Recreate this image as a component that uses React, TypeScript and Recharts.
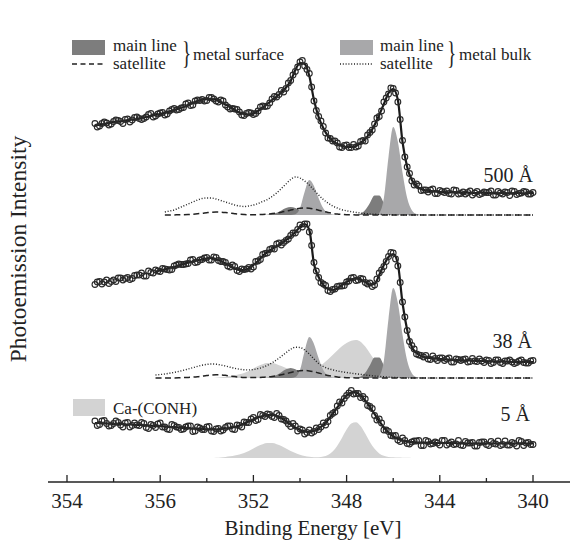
import React from "react";
import { ComposedChart, Area, Line, XAxis, YAxis } from "recharts";

// Binding energy grid of the fit [eV]
const energy = [
  358.8, 358.6, 358.4, 358.2, 358.0, 357.8, 357.6, 357.4, 357.2, 357.0,
  356.8, 356.6, 356.4, 356.2, 356.0, 355.8, 355.6, 355.4, 355.2, 355.0,
  354.8, 354.6, 354.4, 354.2, 354.0, 353.8, 353.6, 353.4, 353.2, 353.0,
  352.8, 352.6, 352.4, 352.2, 352.0, 351.8, 351.6, 351.4, 351.2, 351.0,
  350.8, 350.6, 350.4, 350.2, 350.0, 349.8, 349.6, 349.4, 349.2, 349.0,
  348.8, 348.6, 348.4, 348.2, 348.0, 347.8, 347.6, 347.4, 347.2, 347.0,
  346.8, 346.6, 346.4, 346.2, 346.0, 345.8, 345.6, 345.4, 345.2, 345.0,
  344.8, 344.6, 344.4, 344.2, 344.0, 343.8, 343.6, 343.4, 343.2, 343.0,
  342.8, 342.6, 342.4, 342.2, 342.0, 341.8, 341.6, 341.4, 341.2, 341.0,
  340.8, 340.6, 340.4, 340.2, 340.0,
];
// Intermediate measurement energies (between the fit grid points) [eV]
const energyMid = [
  358.7, 358.5, 358.3, 358.1, 357.9, 357.7, 357.5, 357.3, 357.1, 356.9,
  356.7, 356.5, 356.3, 356.1, 355.9, 355.7, 355.5, 355.3, 355.1, 354.9,
  354.7, 354.5, 354.3, 354.1, 353.9, 353.7, 353.5, 353.3, 353.1, 352.9,
  352.7, 352.5, 352.3, 352.1, 351.9, 351.7, 351.5, 351.3, 351.1, 350.9,
  350.7, 350.5, 350.3, 350.1, 349.9, 349.7, 349.5, 349.3, 349.1, 348.9,
  348.7, 348.5, 348.3, 348.1, 347.9, 347.7, 347.5, 347.3, 347.1, 346.9,
  346.7, 346.5, 346.3, 346.1, 345.9, 345.7, 345.5, 345.3, 345.1, 344.9,
  344.7, 344.5, 344.3, 344.1, 343.9, 343.7, 343.5, 343.3, 343.1, 342.9,
  342.7, 342.5, 342.3, 342.1, 341.9, 341.7, 341.5, 341.3, 341.1, 340.9,
  340.7, 340.5, 340.3, 340.1,
];

// 500 Å spectrum (offset intensity, arb. units)
const fit500 = [
  358, 358, 359, 360, 361, 361.5, 362, 363, 363.5, 364,
  365, 366, 367, 368, 369, 370, 371.5, 373, 374.5, 376,
  378, 380, 382, 383.5, 384, 384, 383, 381, 378.5, 376,
  373, 370.5, 369, 368.5, 369.5, 372, 375.5, 379, 383, 386.5,
  390.5, 395.5, 402, 413, 420, 419, 407, 383, 366, 355,
  347, 342, 339, 337, 336, 336, 337, 340, 344, 350,
  358, 368, 379, 390, 394, 383, 341, 316, 303, 297,
  294, 292.5, 292, 291.5, 291, 291, 290.5, 291, 290.5, 290,
  290.5, 290, 290, 290.5, 290, 290, 289.5, 290, 290, 289.5,
  290, 290, 289.5, 290, 290,
];
const meas500 = [
  359.5, 357, 361, 358, 361.5, 362.5, 359.5, 364, 363, 366,
  363.5, 366, 369.5, 367, 370, 368, 372, 374.5, 373.5, 375.5,
  380, 378, 383, 383.5, 382.5, 385.5, 382, 383, 378, 374,
  374, 371, 367.5, 370.5, 368.5, 372, 377, 377, 384, 386,
  392.5, 394.5, 402.5, 411.5, 421, 417, 409.5, 382, 366.5, 356.5,
  345, 342, 340, 335.5, 338, 335.5, 336, 341.5, 342, 350.5,
  359, 366.5, 381, 389, 394.5, 381, 342.5, 316, 302, 299,
  292.5, 293, 293, 289.5, 292.5, 290.5, 289.5, 293, 289, 291,
  290.5, 288, 291.5, 289.5, 290.5, 292, 288, 290, 291, 287.5,
  291.5, 289.5, 291.5, 289, 290.5,
];
const meas500Mid = [
  356, 359.5, 360, 359, 363, 361.5, 363.5, 361, 365.5, 364.5,
  364.5, 368.5, 366, 369, 370.5, 369, 373.5, 373, 375, 379,
  377.5, 382, 382.5, 382, 385.5, 384, 381, 382, 376, 374.5,
  373.5, 368, 369.5, 370, 369.5, 376, 376.5, 380, 386.5, 388.5,
  391, 400, 408, 416, 422.5, 413.5, 396, 372.5, 362, 350,
  344.5, 342, 336, 337.5, 335.5, 338.5, 337, 342.5, 348, 353,
  365, 372, 385, 395, 390, 363.5, 326, 309.5, 298, 297,
  293, 291, 294, 289.5, 291.5, 292, 289, 292.5, 289.5, 289,
  292, 290, 288.5, 291, 290.5, 288, 291.5, 289, 290.5, 292,
  288.5, 290, 291, 289,
];

// 38 Å spectrum
const fit38 = [
  null, null, null, null, null, null, null, null, null, null,
  null, null, null, 211.5, 212.5, 213.5, 215, 216, 217.5, 219,
  220.5, 221.5, 222.5, 223.5, 224.5, 225, 224, 222, 219.5, 217,
  214.5, 213, 213, 214.5, 218, 222, 227, 231, 234, 237,
  239.5, 243, 246.5, 251, 256, 259, 253, 219, 206, 198,
  194, 193, 194.5, 198, 201, 203.5, 204.5, 203.5, 201, 198.5,
  199, 208, 218, 226, 229, 219, 180, 153, 136, 130,
  127, 125.5, 125, 124.5, 124, 123.5, 123.5, 123, 123, 122.5,
  122.5, 122.5, 122, 122, 122, 121.5, 121.5, 121.5, 121.5, 121,
  121, 121, 121, 121, 121,
];
const meas38 = [
  198.5, 201.5, 201, 199.5, 203, 205, 203, 205.5, 204.5, 208,
  210, 207, 210.5, 213, 211.5, 214, 213, 217, 219, 218.5,
  219.5, 223.5, 221, 223.5, 225.5, 223, 225.5, 221.5, 220.5, 216,
  216.5, 211.5, 213.5, 215.5, 216, 222, 228.5, 230, 234.5, 239,
  238, 242.5, 247.5, 250, 258, 259, 251, 220.5, 205.5, 199,
  192.5, 193.5, 196.5, 197, 201, 205, 202.5, 204.5, 200.5, 200,
  198, 210, 216.5, 226.5, 230, 217, 181, 152.5, 137.5, 129,
  127.5, 127.5, 123.5, 124.5, 125, 122.5, 125, 121, 123.5, 123.5,
  121, 124.5, 121.5, 122, 123, 119.5, 123, 120.5, 122, 123,
  119.5, 122, 120.5, 120, 122.5,
];
const meas38Mid = [
  201, 199, 203, 201.5, 201.5, 205, 204.5, 203.5, 207.5, 208,
  207, 212, 210, 212, 214.5, 213.5, 213.5, 218, 218.5, 219,
  223, 220.5, 223, 225, 223, 226, 222.5, 221.5, 217, 218,
  212.5, 214, 214, 214, 221.5, 223.5, 229.5, 233.5, 234, 240,
  240.5, 244, 250, 253.5, 256, 259, 237.5, 212, 200.5, 197.5,
  191.5, 194, 197, 197.5, 202, 205.5, 203, 204, 199, 196.5,
  204, 213, 221.5, 230.5, 224, 200.5, 166, 141.5, 134, 128,
  126, 124, 127, 122.5, 125, 124, 121, 124, 122.5, 124,
  121.5, 122, 124, 120.5, 122.5, 120.5, 123, 119.5, 122, 121,
  120.5, 123, 120, 122,
];

// 5 Å spectrum
const fit5 = [
  60, 60, 59.5, 59.5, 59, 59, 59, 58.5, 58.5, 58,
  58, 57.5, 57.5, 57, 57, 56.5, 56, 56, 55.5, 55,
  55, 54.5, 54.5, 54, 53.5, 53.5, 53.5, 54, 54.5, 55,
  56, 57.5, 59.5, 61.5, 63.5, 65.5, 67, 68, 68, 67,
  65, 62, 58.5, 55.5, 53, 51.5, 51, 52, 54.5, 58,
  63, 69, 75.5, 82, 87.5, 90.5, 90.5, 87.5, 82.5, 76,
  69, 62, 55.5, 50.5, 46.5, 44, 42.5, 41.5, 41, 40.5,
  40.5, 40.5, 40, 40, 40, 40, 40, 40, 39.5, 39.5,
  39.5, 39.5, 39.5, 39.5, 39.5, 39.5, 39.5, 39.5, 39.5, 39.5,
  39.5, 39.5, 39.5, 39.5, 39.5,
];
const meas5 = [
  62, 58.5, 62.5, 57, 59.5, 60.5, 56, 60.5, 57.5, 58,
  60.5, 55.5, 58.5, 55.5, 60, 56, 53.5, 57.5, 55.5, 54,
  57, 51.5, 56, 53.5, 56, 52, 54, 52, 55.5, 57,
  53.5, 57.5, 61, 60.5, 65.5, 63.5, 67.5, 69, 66.5, 69.5,
  64, 62, 56.5, 57, 54, 49, 53, 51.5, 53.5, 60,
  61.5, 69.5, 77, 80, 87.5, 92.5, 89.5, 85.5, 84, 76.5,
  67.5, 64, 53, 51.5, 47, 43, 45, 39.5, 41, 42,
  37.5, 42.5, 39, 41, 38, 42.5, 39.5, 38.5, 42.5, 37.5,
  40, 40.5, 37, 41, 38.5, 41.5, 39, 37.5, 42, 38,
  39.5, 42.5, 37.5, 40.5, 38.5,
];
const meas5Mid = [
  57.5, 62, 59.5, 57.5, 62, 58, 60, 56, 60, 57.5,
  59.5, 54.5, 57.5, 59, 56, 54, 58.5, 56, 53.5, 56,
  57, 52, 55, 53.5, 56.5, 51.5, 54.5, 53, 57, 54,
  58, 56, 60.5, 64, 62.5, 68.5, 66.5, 68.5, 65.5, 67.5,
  63.5, 59, 59.5, 52, 53, 50.5, 50, 55, 56, 58,
  67.5, 71, 81, 84.5, 90, 89, 89.5, 86.5, 77.5, 74.5,
  63, 60, 53, 47.5, 47.5, 41.5, 42.5, 39, 42, 42.5,
  37.5, 41.5, 39.5, 40, 42.5, 38, 41, 39, 38, 41.5,
  40, 37, 40.5, 41, 37.5, 39.5, 42, 38.5, 38, 40.5,
  37, 41.5, 40, 38.5,
];

// Fit components, heights above each spectrum's baseline, on 356.2 ... 340.0 eV
const COMPONENT_START = 13; // index of 356.2 eV in `energy`
const BASE_500 = 268;
const BASE_38 = 105;
const BASE_5 = 25;

const surfMain500 = [
  0, 0, 0, 0, 0, 0, 0, 0, 0, 0,
  0, 0, 0, 0, 0, 0, 0, 0, 0, 0,
  0, 0, 0, 0.06, 0.3, 0.9, 2.3, 4.6, 7, 8,
  7, 4.6, 2.3, 0.9, 0.3, 0.06, 0, 0, 0, 0,
  0, 0, 0, 0.2, 1.3, 5, 12.1, 19.6, 19.6, 12.1,
  5, 1.3, 0.2, 0, 0, 0, 0, 0, 0, 0,
  0, 0, 0, 0, 0, 0, 0, 0, 0, 0,
  0, 0, 0, 0, 0, 0, 0, 0, 0, 0,
  0, 0,
];
const bulkMain500 = [
  0, 0, 0, 0, 0, 0, 0, 0, 0, 0,
  0, 0, 0, 0, 0, 0, 0, 0, 0, 0,
  0, 0, 0, 0, 0, 0, 0, 0, 0, 0,
  0.8, 6.7, 23.2, 35, 29.1, 16.8, 6.7, 1.9, 0.4, 0.05,
  0, 0, 0, 0, 0, 0, 0, 0.1, 2.1, 16.9,
  58.3, 88, 73.2, 42.2, 16.9, 4.7, 0.9, 0.1, 0, 0,
  0, 0, 0, 0, 0, 0, 0, 0, 0, 0,
  0, 0, 0, 0, 0, 0, 0, 0, 0, 0,
  0, 0,
];
const satSurf500 = [
  null, null, 0, 0, 0.1, 0.2, 0.3, 0.5, 0.8, 1.2,
  1.7, 2.3, 2.8, 3, 2.9, 2.5, 1.9, 1.3, 0.8, 0.5,
  0.3, 0.3, 0.4, 0.6, 0.9, 1.4, 2, 2.8, 3.8, 4.9,
  6, 6.8, 7, 6.7, 5.9, 4.8, 3.6, 2.5, 1.6, 1,
  0.6, 0.3, 0.2, 0.1, 0, 0, 0, 0, 0, 0,
  0, 0, 0, 0, 0, 0, 0, 0, 0, 0,
  0, 0, 0, 0, 0, 0, 0, 0, 0, 0,
  0, 0, 0, 0, 0, 0, 0, 0, 0, 0,
  0, 0,
];
const satBulk500 = [
  null, null, 3, 4, 5, 7, 9, 11, 13, 15,
  16.5, 17, 17, 16, 14.5, 13, 11.5, 10, 9, 8.5,
  9, 10, 11.5, 13.5, 15.5, 18.5, 22, 26.5, 31, 35.5,
  38, 37, 34, 30, 25, 20, 15.5, 12, 9, 7,
  5.3, 4.2, 3.3, 2.6, 2, 1.5, 1.1, 0.8, 0.6, 0.4,
  0.3, 0.2, 0.1, 0, 0, 0, 0, 0, 0, 0,
  0, 0, 0, 0, 0, 0, 0, 0, 0, 0,
  0, 0, 0, 0, 0, 0, 0, 0, 0, 0,
  0, 0,
];

const ca38 = [
  0, 0, 0, 0, 0, 0, 0, 0, 0, 0,
  0, 0, 0.05, 0.3, 0.7, 1.2, 1.9, 2.8, 3.7, 5.1,
  7.1, 9.5, 11.9, 13.8, 14.9, 14.9, 13.8, 11.9, 9.9, 7.8,
  6.1, 5.2, 5.2, 6.1, 8, 10.8, 14.4, 18.5, 23.1, 27.6,
  31.7, 35.1, 37.2, 38, 36.3, 31.4, 24.8, 17.8, 11.6, 6.9,
  3.7, 1.8, 0.8, 0.3, 0.1, 0, 0, 0, 0, 0,
  0, 0, 0, 0, 0, 0, 0, 0, 0, 0,
  0, 0, 0, 0, 0, 0, 0, 0, 0, 0,
  0, 0,
];
const surfMain38 = [
  0, 0, 0, 0, 0, 0, 0, 0, 0, 0,
  0, 0, 0, 0, 0, 0, 0, 0, 0, 0,
  0, 0, 0, 0.07, 0.3, 1.1, 2.9, 5.8, 8.7, 10,
  8.7, 5.8, 2.9, 1.1, 0.3, 0.07, 0, 0, 0, 0,
  0, 0, 0, 0.2, 1.4, 5.2, 12.7, 20.6, 20.6, 12.7,
  5.2, 1.4, 0.2, 0, 0, 0, 0, 0, 0, 0,
  0, 0, 0, 0, 0, 0, 0, 0, 0, 0,
  0, 0, 0, 0, 0, 0, 0, 0, 0, 0,
  0, 0,
];
const bulkMain38 = [
  0, 0, 0, 0, 0, 0, 0, 0, 0, 0,
  0, 0, 0, 0, 0, 0, 0, 0, 0, 0,
  0, 0, 0, 0, 0, 0, 0, 0, 0, 0,
  1, 7.9, 27.1, 41, 34.1, 19.7, 7.9, 2.2, 0.4, 0.06,
  0, 0, 0, 0, 0, 0, 0, 0.1, 2.2, 17.3,
  59.6, 90, 74.9, 43.2, 17.3, 4.8, 0.9, 0.1, 0, 0,
  0, 0, 0, 0, 0, 0, 0, 0, 0, 0,
  0, 0, 0, 0, 0, 0, 0, 0, 0, 0,
  0, 0,
];
const satSurf38 = [
  0, 0, 0, 0.1, 0.1, 0.2, 0.4, 0.6, 0.9, 1.3,
  1.9, 2.5, 3, 3.2, 3.1, 2.7, 2, 1.4, 0.9, 0.5,
  0.4, 0.4, 0.5, 0.7, 1.1, 1.6, 2.3, 3.2, 4.3, 5.5,
  6.6, 7.3, 7.5, 7.1, 6.2, 5, 3.8, 2.6, 1.7, 1,
  0.6, 0.3, 0.2, 0.1, 0, 0, 0, 0, 0, 0,
  0, 0, 0, 0, 0, 0, 0, 0, 0, 0,
  0, 0, 0, 0, 0, 0, 0, 0, 0, 0,
  0, 0, 0, 0, 0, 0, 0, 0, 0, 0,
  0, 0,
];
const satBulk38 = [
  3, 3.5, 4, 4.8, 5.6, 6.6, 7.7, 9, 10.3, 11.6,
  12.8, 13.6, 14, 13.8, 13, 12, 10.8, 9.7, 8.8, 8.2,
  8.1, 8.5, 9.4, 10.8, 12.7, 15.2, 18.2, 21.7, 25.3, 28.7,
  30.8, 30.5, 28, 24, 19, 14.5, 11.5, 9.5, 8.2, 7,
  6.2, 5.5, 4.8, 4.2, 3.6, 3, 2.5, 2, 1.6, 1.2,
  0.9, 0.6, 0.4, 0.2, 0.1, 0, 0, 0, 0, 0,
  0, 0, 0, 0, 0, 0, 0, 0, 0, 0,
  0, 0, 0, 0, 0, 0, 0, 0, 0, 0,
  0, 0,
];
const ca5 = [
  0, 0, 0, 0, 0, 0, 0, 0, 0, 0,
  0, 0, 0, 0.3, 0.6, 1.1, 1.7, 2.6, 3.6, 5.1,
  7.1, 9.5, 11.9, 13.8, 14.9, 14.9, 13.8, 11.9, 9.5, 7.1,
  5, 3.3, 2, 1.2, 0.8, 0.8, 1.4, 3, 6.4, 12.2,
  20.1, 28.4, 34.5, 35.8, 31.9, 24.4, 16, 9.2, 4.6, 2.2,
  1.1, 0.7, 0.45, 0.3, 0.2, 0.1, 0.05, 0, 0, 0,
  0, 0, 0, 0, 0, 0, 0, 0, 0, 0,
  0, 0, 0, 0, 0, 0, 0, 0, 0, 0,
  0, 0,
];

// Axis ticks (labels as printed on the original figure)
const xTicks = [360, 358, 356, 354, 352, 350, 348, 346, 344, 342, 340];
const majorTickValues = [360, 356, 352, 348, 344, 340];
const majorTickLabels = ["354", "356", "352", "348", "344", "340"];

const FONT = "'Liberation Serif', 'Times New Roman', serif";
const INK = "#222";
const C_SURF = "#7d7d7d";
const C_BULK = "#a8a8aa";
const C_CA = "#d3d3d3";

const comp = (arr: (number | null)[], k: number, base: number, range: boolean) => {
  const j = k - COMPONENT_START;
  if (j < 0 || j >= arr.length) return null;
  const v = arr[j];
  if (v == null) return null;
  return range ? [base, base + v] : base + v;
};

// Build one table: fit-grid rows interleaved with intermediate measurement rows
const data: any[] = [];
energy.forEach((e, k) => {
  data.push({
    e,
    fit500: fit500[k],
    m500: meas500[k],
    fit38: fit38[k],
    m38: meas38[k],
    fit5: fit5[k],
    m5: meas5[k],
    surf500: comp(surfMain500, k, BASE_500, true),
    bulk500: comp(bulkMain500, k, BASE_500, true),
    ssat500: comp(satSurf500, k, BASE_500, false),
    bsat500: comp(satBulk500, k, BASE_500, false),
    ca38: comp(ca38, k, BASE_38, true),
    surf38: comp(surfMain38, k, BASE_38, true),
    bulk38: comp(bulkMain38, k, BASE_38, true),
    ssat38: comp(satSurf38, k, BASE_38, false),
    bsat38: comp(satBulk38, k, BASE_38, false),
    ca5: comp(ca5, k, BASE_5, true),
  });
  if (k < energyMid.length) {
    data.push({ e: energyMid[k], m500: meas500Mid[k], m38: meas38Mid[k], m5: meas5Mid[k] });
  }
});

const X_DOMAIN: [number, number] = [337.554, 360.815];

const BottomTick = (props: any) => {
  const { x, y, payload } = props;
  const idx = majorTickValues.indexOf(payload.value);
  const major = idx >= 0;
  return (
    <g>
      <line x1={x} x2={x} y1={y} y2={y - (major ? 7 : 4)} stroke={INK} strokeWidth={1.3} />
      {major && (
        <text x={x} y={y + 26} textAnchor="middle" fontSize={21} fontFamily={FONT} fill={INK}>
          {majorTickLabels[idx]}
        </text>
      )}
    </g>
  );
};

const TopTick = (props: any) => {
  const { x, y, payload } = props;
  const major = majorTickValues.indexOf(payload.value) >= 0;
  return <line x1={x} x2={x} y1={y} y2={y + (major ? 7 : 4)} stroke={INK} strokeWidth={1.3} />;
};

const circleDot = { r: 2.9, fill: "none", stroke: "#2a2a2a", strokeWidth: 1.1 };

export default function App() {
  const areaProps = {
    type: "monotone" as const,
    stroke: "none",
    fillOpacity: 1,
    isAnimationActive: false,
    connectNulls: true,
    dot: false,
    activeDot: false,
  };
  const lineProps = {
    type: "monotone" as const,
    isAnimationActive: false,
    connectNulls: true,
    dot: false,
    activeDot: false,
  };
  return (
    <div
      style={{
        position: "fixed",
        left: 0,
        top: 0,
        width: 570,
        height: 540,
        overflow: "hidden",
        background: "#fff",
      }}
    >
      <ComposedChart
        width={600}
        height={540}
        data={data}
        margin={{ top: 13, right: 10, bottom: 0, left: 48 }}
      >
        <XAxis
          dataKey="e"
          type="number"
          domain={X_DOMAIN}
          reversed
          allowDataOverflow
          ticks={xTicks}
          interval={0}
          tickSize={0}
          tickMargin={0}
          tickLine={false}
          tick={(p: any) => <BottomTick {...p} />}
          axisLine={{ stroke: INK, strokeWidth: 1.3 }}
          height={58}
        />
        <XAxis
          xAxisId="top"
          orientation="top"
          dataKey="e"
          type="number"
          domain={X_DOMAIN}
          reversed
          allowDataOverflow
          ticks={xTicks}
          interval={0}
          tickSize={0}
          tickMargin={0}
          tickLine={false}
          tick={(p: any) => <TopTick {...p} />}
          axisLine={{ stroke: INK, strokeWidth: 1.3 }}
          height={0}
        />
        <YAxis
          type="number"
          domain={[1, 470]}
          allowDataOverflow
          width={0}
          tick={false}
          tickLine={false}
          axisLine={{ stroke: INK, strokeWidth: 1.3 }}
        />

        {/* 500 Å components */}
        <Area dataKey="surf500" fill={C_SURF} {...areaProps} />
        <Area dataKey="bulk500" fill={C_BULK} {...areaProps} />
        <Line dataKey="ssat500" stroke={INK} strokeWidth={1.5} strokeDasharray="6 3.5" {...lineProps} />
        <Line dataKey="bsat500" stroke={INK} strokeWidth={1.4} strokeDasharray="1 1.8" {...lineProps} />

        {/* 38 Å components */}
        <Area dataKey="ca38" fill={C_CA} {...areaProps} />
        <Area dataKey="surf38" fill={C_SURF} {...areaProps} />
        <Area dataKey="bulk38" fill={C_BULK} {...areaProps} />
        <Line dataKey="ssat38" stroke={INK} strokeWidth={1.5} strokeDasharray="6 3.5" {...lineProps} />
        <Line dataKey="bsat38" stroke={INK} strokeWidth={1.4} strokeDasharray="1 1.8" {...lineProps} />

        {/* 5 Å component */}
        <Area dataKey="ca5" fill={C_CA} {...areaProps} />

        {/* fitted envelopes */}
        <Line dataKey="fit500" stroke="#1a1a1a" strokeWidth={2.2} {...lineProps} />
        <Line dataKey="fit38" stroke="#1a1a1a" strokeWidth={2.2} {...lineProps} />
        <Line dataKey="fit5" stroke="#1a1a1a" strokeWidth={2.2} {...lineProps} />

        {/* measured points (open circles) */}
        <Line dataKey="m500" stroke="none" isAnimationActive={false} dot={circleDot} activeDot={false} />
        <Line dataKey="m38" stroke="none" isAnimationActive={false} dot={circleDot} activeDot={false} />
        <Line dataKey="m5" stroke="none" isAnimationActive={false} dot={circleDot} activeDot={false} />
      </ComposedChart>

      <svg
        width={570}
        height={540}
        style={{ position: "absolute", left: 0, top: 0, pointerEvents: "none" }}
        fontFamily={FONT}
      >
        {/* axis titles */}
        <text x={313} y={535} textAnchor="middle" fontSize={21} fill={INK}>
          Binding Energy [eV]
        </text>
        <text transform="translate(26,249) rotate(-90)" textAnchor="middle" fontSize={23.5} fill={INK}>
          Photoemission Intensity
        </text>

        {/* legend: metal surface */}
        <rect x={72} y={40} width={33} height={15} fill={C_SURF} />
        <line x1={72} x2={105} y1={64} y2={64} stroke={INK} strokeWidth={1.4} strokeDasharray="5 3.5" />
        <text x={113} y={51} fontSize={17} fill={INK}>main line</text>
        <text x={113} y={69} fontSize={17} fill={INK}>satellite</text>
        <text transform="translate(182,64) scale(0.6,1)" fontSize={32} fill={INK}>{"}"}</text>
        <text x={193} y={60} fontSize={17} fill={INK}>metal surface</text>

        {/* legend: metal bulk */}
        <rect x={340} y={40} width={33} height={15} fill={C_BULK} />
        <line x1={340} x2={372} y1={64} y2={64} stroke={INK} strokeWidth={1.4} strokeDasharray="1 1.8" />
        <text x={380} y={51} fontSize={17} fill={INK}>main line</text>
        <text x={380} y={69} fontSize={17} fill={INK}>satellite</text>
        <text transform="translate(447,64) scale(0.6,1)" fontSize={32} fill={INK}>{"}"}</text>
        <text x={459} y={60} fontSize={17} fill={INK}>metal bulk</text>

        {/* legend: Ca-(CONH) */}
        <rect x={73} y={399} width={32} height={17} fill={C_CA} />
        <text x={113} y={414} fontSize={17} fill={INK}>Ca-(CONH)</text>

        {/* thickness labels */}
        <text x={533} y={182} textAnchor="end" fontSize={20} fill={INK}>500 Å</text>
        <text x={532} y={348} textAnchor="end" fontSize={20} fill={INK}>38 Å</text>
        <text x={530} y={421} textAnchor="end" fontSize={20} fill={INK}>5 Å</text>
      </svg>
    </div>
  );
}
